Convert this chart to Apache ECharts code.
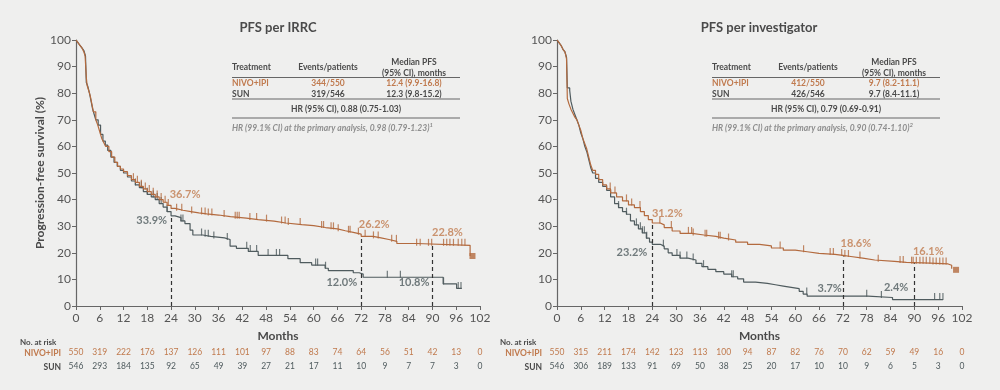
<!DOCTYPE html>
<html>
<head>
<meta charset="utf-8">
<script src="https://cdn.jsdelivr.net/npm/echarts@6/dist/echarts.min.js"></script>
<style>
  html, body { margin: 0; padding: 0; background: #efefee; }
  #main { width: 1000px; height: 390px; }
</style>
</head>
<body>
<div id="main"></div>
<script>
// ---- data ----
var monthTicks = [0, 6, 12, 18, 24, 30, 36, 42, 48, 54, 60, 66, 72, 78, 84, 90, 96, 102];

// PFS per IRRC (left)
var nivoIRRC = [[0,100],[0.5,99],[1,98],[1.5,97],[2,95.5],[2.3,94],[2.6,86],[2.8,83],[3.2,81],[3.6,79],[4,76],[4.4,73],[5,70],[5.5,68],[6,65.5],[6.5,63],[7,61.5],[7.5,60],[8.3,58],[9,56],[9.8,54],[10.5,52.5],[11.2,51.5],[12,50.5],[13,49],[14,47.5],[15,46.5],[16,45],[17,44],[18,43],[19,42],[20,41],[21,40],[22,39],[23,37.8],[24,36.7],[25,36],[27,35.5],[29,35],[31,34.6],[33,34.2],[36,33.6],[39,33],[43,32.5],[46,31.9],[50,31.2],[53,30.6],[57,30.2],[60,29.5],[63,29],[66,28.3],[68,27.7],[70,27],[72,26.2],[75,25.6],[77,25],[79,24.3],[81,23.5],[86,22.8],[99.5,18.8]];
var sunIRRC = [[0,100],[0.5,99],[1,98],[1.5,97],[2,96],[2.4,94],[2.6,84],[3,82.5],[3.4,80],[3.8,77],[4.2,74],[4.6,72],[5,70],[5.6,68],[6.2,64.5],[6.8,62],[7.4,60.5],[8,58.5],[8.8,56],[9.6,54],[10.4,52.5],[11.2,51],[12,50],[13,48.5],[14,47],[15,45.5],[16,44.5],[17,43],[18,42],[19,41],[20,40],[21,38.5],[22,37.2],[23,35.5],[24,33.9],[25,33.2],[26.5,32],[27.5,31],[28.8,28.5],[29.5,26.7],[32,26.2],[34,25.6],[37.5,25],[38.9,22.5],[40.5,21.7],[43.5,20.5],[46,19],[53.5,17.8],[56.6,16.3],[59.5,15.4],[62.9,14.2],[63.7,13.3],[70,12.5],[71.5,12],[72.5,10.8],[92.7,8.3],[96.1,6.6],[97.4,6.6]];
var nivoIRRCCens = [14.5,15.5,16.5,17.5,18.5,19.5,20.5,21.5,22.5,23.3,25.4,26.7,29.2,31.7,32.6,33.4,34.3,37.4,40.2,40.7,41.2,43.9,45.6,48.1,51.9,52.8,53.6,56.6,62,62.5,64.4,65,66.2,68.8,69.2,71.3,73,75.1,76.3,79.7,80.9,86,86.9,89,89.8,92.8,93.6,94.4,95.3,96.5,97.4,98.2];
var sunIRRCCens = [15,16.5,18,19.5,20.5,21.5,23,26.5,27,31.7,32.6,33.4,34.8,38.2,43.1,44,45.6,48.5,50.6,51.4,60.5,61,63,78.6,81.9,92.8,96.5,97.2];
var nivoIRRCEnd = [100.1, 18.8];
var riskNivoIRRC = [550,319,222,176,137,126,111,101,97,88,83,74,64,56,51,42,13,0];
var riskSunIRRC = [546,293,184,135,92,65,49,39,27,21,17,11,10,9,7,7,3,0];

// PFS per investigator (right)
var nivoInv = [[0,100],[0.5,99],[1,98],[1.5,96.5],[2,95.5],[2.4,93],[2.6,78],[3,76],[3.5,74],[4,72.5],[4.5,71],[5,70],[5.5,68],[6,66],[6.5,63],[7,61],[7.5,59],[8,56],[8.5,53],[9,51],[9.7,49.5],[10.5,47.5],[11.5,45.5],[12.5,44],[13.5,42.5],[15,41],[16.5,39.5],[18,38],[19.5,37],[21,35.5],[22,34],[23,32.5],[24,31.2],[26,30.5],[27,29.5],[29,28.2],[31,27.3],[34,26.7],[37,26.2],[40,25.5],[42,24.8],[45,24],[48,23.2],[51,22.6],[54,21.8],[57,21],[60,20.4],[63,19.8],[66,19.4],[70,19],[72,18.6],[74,18],[77,17.3],[80,16.8],[85,16.4],[88,16.1],[94,15.8],[98.5,15.3],[99.4,14]];
var sunInv = [[0,100],[0.5,99],[1,98],[1.5,96.5],[2,95.5],[2.4,93.5],[2.6,82],[3.2,81],[3.5,77],[4,74],[4.5,72],[5,70],[5.5,68],[6,65],[6.5,63],[7,60],[7.5,58],[8,55],[8.5,52],[9,50],[9.7,48],[10.5,46.5],[11.5,45],[12.5,43.5],[13.5,41],[14.5,38.5],[15.5,37],[16.5,35.5],[17.5,34.5],[18.5,32],[19.5,30.5],[20.5,29],[21.5,27.5],[22.5,25.5],[23.3,24],[24,23.2],[26,22.5],[27,21.5],[28,20],[29,19],[31,18],[33,17.3],[35,16],[36.5,14.8],[38,13.8],[40,12.9],[42,12],[44,11],[45.5,10.2],[47,9],[50,8.5],[53,8],[55,7.5],[57,7],[59,6.5],[61,5.5],[62,4.5],[63,3.7],[78.3,3.2],[84.5,2.4],[97.2,2.4]];
var nivoInvCens = [13.4,14.6,17.5,18.8,20.9,25.9,28.8,33.1,33.9,34.3,37.3,37.7,40.7,41.1,43.2,56.2,62.1,68.8,69.6,71.7,72.5,73.4,76.3,80.9,86.4,87.2,89.3,89.7,90.5,91.4,92.2,93,93.9,94.7,95.5,96.4,97.2,98];
var sunInvCens = [15.5,17.5,20,21,21.5,22,22.6,26.8,30.2,31,32.7,34.3,36.9,44,44.4,62.9,78,81.7,95.1,96.4,97.2];
var nivoInvEnd = [100.5, 13.6];
var riskNivoInv = [550,315,211,174,142,123,113,100,94,87,82,76,70,62,59,49,16,0];
var riskSunInv = [546,306,189,133,91,69,50,38,25,20,17,10,10,9,6,5,3,0];

// landmark annotations
var landmarkMonths = [24, 72, 90];
var landNivoIRRC = [36.7, 26.2, 22.8];
var landSunIRRC = [33.9, 12.0, 10.8];
var landNivoInv = [31.2, 18.6, 16.1];
var landSunInv = [23.2, 3.7, 2.4];

// tables
var tableHeader = ['Treatment', 'Events/patients', 'Median PFS', '(95% CI), months'];
var armNames = ['NIVO+IPI', 'SUN'];
var eventsIRRC = ['344/550', '319/546'];
var medianIRRC = ['12.4 (9.9-16.8)', '12.3 (9.8-15.2)'];
var hrIRRC = 'HR (95% CI), 0.88 (0.75-1.03)';
var footIRRC = ['HR (99.1% CI) at the primary analysis, 0.98 (0.79-1.23)', '1'];
var eventsInv = ['412/550', '426/546'];
var medianInv = ['9.7 (8.2-11.1)', '9.7 (8.4-11.1)'];
var hrInv = 'HR (95% CI), 0.79 (0.69-0.91)';
var footInv = ['HR (99.1% CI) at the primary analysis, 0.90 (0.74-1.10)', '2'];

// ---- styles ----
var NIVO = '#b36a3e';
var NIVO_TXT = '#c07a4e';
var SUN = '#4f5b5e';
var TXT = '#4a4a4a';
var FONT = 'Lato, "Open Sans", sans-serif';

function stepValue(curve, m) {
    var v = curve[0][1];
    for (var i = 0; i < curve.length; i++) {
        if (curve[i][0] <= m) v = curve[i][1];
    }
    return v;
}
function censorData(curve, months) {
    return months.map(function (m) { return [m, stepValue(curve, m)]; });
}

var grids = [
    { left: 76, right: 520, top: 40, bottom: 84 },
    { left: 557, right: 38, top: 40, bottom: 84 }
];

function mainX(gi) {
    return {
        type: 'value', gridIndex: gi, min: 0, max: 102, interval: 6,
        name: 'Months', nameLocation: 'middle', nameGap: 24,
        nameTextStyle: { color: TXT, fontSize: 12, fontWeight: 'bold', fontFamily: FONT },
        axisLine: { lineStyle: { color: '#666', width: 1.2 } },
        axisTick: { length: 4, lineStyle: { color: '#666' } },
        axisLabel: { color: '#555', fontSize: 12, margin: 6, fontFamily: FONT },
        splitLine: { show: false }
    };
}
function riskX(gi, arr, color, offset) {
    return {
        type: 'value', gridIndex: gi, min: 0, max: 102, interval: 6, position: 'bottom', offset: offset,
        axisLine: { show: false }, axisTick: { show: false }, splitLine: { show: false },
        axisLabel: {
            color: color, fontSize: 8.5, margin: 0, fontFamily: FONT,
            formatter: function (v) { return String(arr[Math.round(v / 6)]); }
        }
    };
}
function mainY(gi, name) {
    return {
        type: 'value', gridIndex: gi, min: 0, max: 100, interval: 10,
        name: name, nameLocation: 'middle', nameGap: 30,
        nameTextStyle: { color: TXT, fontSize: 12, fontWeight: 'bold', fontFamily: FONT },
        axisLine: { show: true, lineStyle: { color: '#666', width: 1.2 } },
        axisTick: { show: true, length: 4, lineStyle: { color: '#666' } },
        axisLabel: { color: '#555', fontSize: 12, margin: 5, fontFamily: FONT },
        splitLine: { show: false }
    };
}

function curveSeries(xi, yi, data, color, lands, landTop) {
    var s = {
        type: 'line', xAxisIndex: xi, yAxisIndex: yi, data: data, step: 'end',
        showSymbol: false, symbol: 'none', silent: true,
        lineStyle: { color: color, width: 1.2 }
    };
    if (lands) {
        s.markLine = {
            silent: true, symbol: 'none', label: { show: false },
            lineStyle: { color: '#333', type: [4, 3], width: 1.2 },
            data: landmarkMonths.map(function (m, i) {
                return [{ coord: [m, 0] }, { coord: [m, landTop[i]] }];
            })
        };
    }
    return s;
}
function censorSeries(xi, yi, curve, months, color) {
    return {
        type: 'scatter', xAxisIndex: xi, yAxisIndex: yi, silent: true,
        data: censorData(curve, months), symbol: 'rect', symbolSize: [1.2, 7], symbolOffset: [0, -3],
        itemStyle: { color: color }
    };
}
function endSeries(xi, yi, pt) {
    return {
        type: 'scatter', xAxisIndex: xi, yAxisIndex: yi, silent: true,
        data: [pt], symbol: 'rect', symbolSize: 6, itemStyle: { color: NIVO }
    };
}
// offsets: [dx, dy, align] per landmark
function labelSeries(xi, yi, vals, color, offs) {
    return {
        type: 'scatter', xAxisIndex: xi, yAxisIndex: yi, silent: true, symbolSize: 0,
        data: landmarkMonths.map(function (m, i) {
            return {
                value: [m, vals[i]],
                label: {
                    show: true, formatter: vals[i].toFixed(1) + '%', position: [offs[i][0], offs[i][1]],
                    align: offs[i][2], verticalAlign: 'middle',
                    color: color, fontSize: 11, fontFamily: FONT, fontWeight: 'bold'
                }
            };
        })
    };
}

var series = [
    curveSeries(0, 0, sunIRRC, SUN),
    curveSeries(0, 0, nivoIRRC, NIVO, true, [33.9, 26.2, 22.8]),
    censorSeries(0, 0, sunIRRC, sunIRRCCens, SUN),
    censorSeries(0, 0, nivoIRRC, nivoIRRCCens, NIVO),
    endSeries(0, 0, nivoIRRCEnd),
    labelSeries(0, 0, landNivoIRRC, NIVO_TXT, [[14, -14, 'center'], [13, -12, 'center'], [15, -13, 'center']]),
    labelSeries(0, 0, landSunIRRC, SUN, [[-4, 5, 'right'], [-4, 8, 'right'], [-3, 5, 'right']]),

    curveSeries(3, 1, sunInv, SUN),
    curveSeries(3, 1, nivoInv, NIVO, true, landNivoInv),
    censorSeries(3, 1, sunInv, sunInvCens, SUN),
    censorSeries(3, 1, nivoInv, nivoInvCens, NIVO),
    endSeries(3, 1, nivoInvEnd),
    labelSeries(3, 1, landNivoInv, NIVO_TXT, [[15, -10, 'center'], [13, -13, 'center'], [14, -12, 'center']]),
    labelSeries(3, 1, landSunInv, SUN, [[-5, 8, 'right'], [-1, -8, 'right'], [-6, -12, 'right']])
];

// graphic texts: titles, tables, at-risk row labels
function txt(x, y, s, opt) {
    opt = opt || {};
    return {
        type: 'text', x: x, y: y, silent: true,
        style: {
            text: s, fill: opt.color || TXT, font: (opt.style || 'normal') + ' ' + (opt.weight || 'normal') + ' ' + (opt.size || 9) + 'px ' + FONT,
            textAlign: opt.align || 'left', textVerticalAlign: 'middle', rich: opt.rich
        }
    };
}
function hline(x1, x2, y, color) {
    return { type: 'line', silent: true, shape: { x1: x1, y1: y, x2: x2, y2: y }, style: { stroke: color || '#666', lineWidth: 1.2 } };
}
function table(x0, events, median, hr, foot) {
    var g = [];
    g.push(txt(x0, 67, tableHeader[0], { weight: 'bold', size: 8.5 }));
    g.push(txt(x0 + 96, 67, tableHeader[1], { weight: 'bold', size: 8.5, align: 'center' }));
    g.push(txt(x0 + 182, 62, tableHeader[2], { weight: 'bold', size: 8.5, align: 'center' }));
    g.push(txt(x0 + 182, 73, tableHeader[3], { weight: 'bold', size: 8.5, align: 'center' }));
    g.push(hline(x0, x0 + 228, 77.5));
    var rowsY = [83.5, 94];
    var cols = [NIVO_TXT, TXT];
    for (var i = 0; i < 2; i++) {
        g.push(txt(x0, rowsY[i], armNames[i], { weight: 'bold', size: 8.5, color: cols[i] }));
        g.push(txt(x0 + 96, rowsY[i], events[i], { weight: 'bold', size: 8.5, color: cols[i], align: 'center' }));
        g.push(txt(x0 + 182, rowsY[i], median[i], { weight: 'bold', size: 8.5, color: cols[i], align: 'center' }));
    }
    g.push(hline(x0, x0 + 228, 99));
    g.push(txt(x0 + 114, 109, hr, { weight: 'bold', size: 8.5, align: 'center' }));
    g.push(hline(x0, x0 + 228, 118));
    g.push({
        type: 'text', x: x0, y: 128, silent: true,
        style: {
            text: '{a|' + foot[0] + '}{s|' + foot[1] + '}', textVerticalAlign: 'middle',
            rich: {
                a: { fill: '#8e8e8e', font: 'italic bold 8.5px ' + FONT },
                s: { fill: '#8e8e8e', font: 'italic bold 6px ' + FONT, verticalAlign: 'top', padding: [0, 0, 6, 0] }
            }
        }
    });
    return g;
}

var graphics = [
    txt(278, 28, 'PFS per IRRC', { size: 13, weight: 'bold', align: 'center' }),
    txt(759, 28, 'PFS per investigator', { size: 13, weight: 'bold', align: 'center' }),
    txt(20, 342, 'No. at risk', { size: 8, weight: 'bold' }),
    txt(61, 353, 'NIVO+IPI', { size: 8.5, weight: 'bold', color: NIVO_TXT, align: 'right' }),
    txt(61, 367, 'SUN', { size: 8.5, weight: 'bold', align: 'right' }),
    txt(500, 342, 'No. at risk', { size: 8, weight: 'bold' }),
    txt(542, 353, 'NIVO+IPI', { size: 8.5, weight: 'bold', color: NIVO_TXT, align: 'right' }),
    txt(542, 367, 'SUN', { size: 8.5, weight: 'bold', align: 'right' })
].concat(table(232, eventsIRRC, medianIRRC, hrIRRC, footIRRC))
 .concat(table(712, eventsInv, medianInv, hrInv, footInv));

var myChart = echarts.init(document.getElementById('main'), null, { renderer: 'canvas' });
myChart.setOption({
    backgroundColor: '#efefee',
    animation: false,
    textStyle: { fontFamily: FONT },
    grid: grids,
    xAxis: [
        mainX(0),
        riskX(0, riskNivoIRRC, NIVO_TXT, 42),
        riskX(0, riskSunIRRC, SUN, 56),
        mainX(1),
        riskX(1, riskNivoInv, NIVO_TXT, 42),
        riskX(1, riskSunInv, SUN, 56)
    ],
    yAxis: [
        mainY(0, 'Progression-free survival (%)'),
        mainY(1, '')
    ],
    series: series,
    graphic: graphics
});
</script>
</body>
</html>
